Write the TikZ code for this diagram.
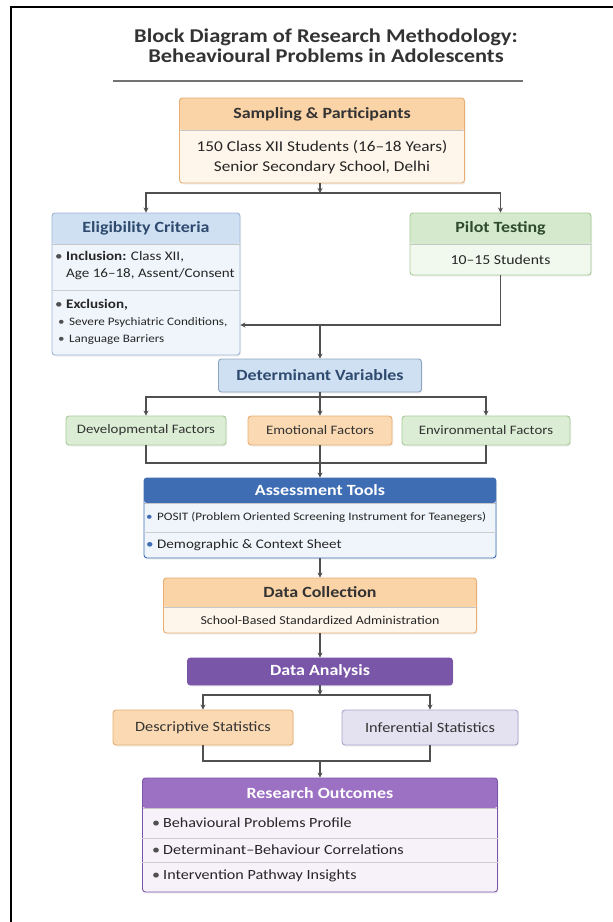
\documentclass[tikz,border=0pt]{standalone}
\usepackage{fontspec}
\setmainfont{Carlito}[FakeStretch=1.15]
\usetikzlibrary{arrows.meta,shadows}

\definecolor{orgline}{HTML}{E6AE72}
\definecolor{orghead}{HTML}{FAD3A6}
\definecolor{orgbody}{HTML}{FEF5EB}
\definecolor{bluline}{HTML}{9DB5D5}
\definecolor{bluhead}{HTML}{CFE0F2}
\definecolor{blubody}{HTML}{F0F5FB}
\definecolor{bluDark}{HTML}{3E6DB4}
\definecolor{bluText}{HTML}{2E4A6E}
\definecolor{grnline}{HTML}{A6CB98}
\definecolor{grnhead}{HTML}{D5EACD}
\definecolor{grnbody}{HTML}{F1F8ED}
\definecolor{grnText}{HTML}{2F4A2C}
\definecolor{purDark}{HTML}{7A56A8}
\definecolor{purHead}{HTML}{9C70C2}
\definecolor{purbody}{HTML}{F7F1FA}
\definecolor{lavfill}{HTML}{E4E2F1}
\definecolor{lavline}{HTML}{A6A3C8}
\definecolor{inkgray}{HTML}{505050}

\newcommand{\bul}[1][inkgray]{\makebox[11pt][l]{\textcolor{#1}{•}}}

\begin{document}
\begin{tikzpicture}[
  x=1pt, y=-1pt,
  >={Stealth[length=5pt,width=5pt]},
  box/.style={draw, rounded corners=3pt, line width=0.9pt, inner sep=0pt,
    drop shadow={opacity=0.12, shadow xshift=1pt, shadow yshift=-1.5pt}},
  hdr/.style 2 args={path picture={
    \fill[#1] (path picture bounding box.north west) rectangle ([yshift=-#2pt]path picture bounding box.north east);
    \draw[black!22, line width=0.6pt] ([yshift=-#2pt]path picture bounding box.north west) -- ([yshift=-#2pt]path picture bounding box.north east);}},
  orgbox/.style={box, draw=orgline, fill=orgbody},
  blubox/.style={box, draw=bluline, fill=blubody},
  grnbox/.style={box, draw=grnline, fill=grnbody},
  purbox/.style={box, draw=purDark, fill=purbody},
  title/.style={font=\fontsize{15.6}{18}\selectfont\bfseries, inner sep=0pt},
  body/.style={font=\fontsize{15}{20}\selectfont, inner sep=0pt, align=center, text=black!85},
  item/.style={font=\fontsize{13.1}{17}\selectfont, inner sep=0pt, align=left, anchor=west, text=black!85},
  small/.style={font=\fontsize{11.4}{16.5}\selectfont, inner sep=0pt, align=left, anchor=west, text=black!85},
  fac/.style={font=\fontsize{12.9}{16}\selectfont, inner sep=0pt, text=black!80},
  div/.style={black!20, line width=0.6pt},
  line/.style={inkgray, line width=1.1pt},
  flow/.style={line, ->},
]
  \useasboundingbox (0,0) rectangle (613,922);
  \draw[line width=2.8pt] (11,922) -- (11,7) -- (613,7);

  % heading
  \node[font=\fontsize{19.5}{19.5}\selectfont\bfseries, text=black!80, align=center] (head) at (326,45.5)
    {Block Diagram of Research Methodology:\\Beheavioural Problems in Adolescents};
  \draw[black!55, line width=1.6pt] (113,81) -- (523,81);

  % boxes
  \node[orgbox, hdr={orghead}{32}, minimum width=285, minimum height=85] (samp) at (322,140.5) {};
  \node[blubox, hdr={bluhead}{31}, minimum width=188, minimum height=142] (elig) at (146,284) {};
  \node[grnbox, hdr={grnhead}{31}, minimum width=181, minimum height=62] (pilot) at (500.5,244) {};
  \node[box, draw=bluline!90!black, fill=bluhead, minimum width=203, minimum height=33] (detv) at (320,375.5) {};
  \node[box, draw=grnline, fill=grnhead!85!white, minimum width=160, minimum height=29] (dev) at (146,430.5) {};
  \node[box, draw=orgline, fill=orghead!85!white, minimum width=144, minimum height=29] (emo) at (320,430.5) {};
  \node[box, draw=grnline, fill=grnhead!85!white, minimum width=168, minimum height=29] (env) at (486,430.5) {};
  \node[box, draw=bluDark, fill=blubody, hdr={bluDark}{25}, minimum width=352, minimum height=80] (tools) at (320,518) {};
  \node[orgbox, hdr={orghead}{29}, minimum width=313, minimum height=55] (dcoll) at (320,605.5) {};
  \node[box, draw=purDark, fill=purDark, minimum width=265, minimum height=27] (danal) at (320,671.5) {};
  \node[box, draw=orgline, fill=orghead!85!white, minimum width=180, minimum height=35] (desc) at (203,727.5) {};
  \node[box, draw=lavline, fill=lavfill, minimum width=176, minimum height=35] (infer) at (430,727.5) {};
  \node[purbox, hdr={purHead}{30}, minimum width=355, minimum height=114] (outc) at (320,835) {};

  % texts
  \node[title, text=black!80] (sampT) at (322,114) {Sampling \& Participants};
  \node[body] (sampB) at (322,157) {150 Class XII Students (16–18 Years)\\Senior Secondary School, Delhi};

  \node[title, text=bluText] (eligT) at (146,228.5) {Eligibility Criteria};
  \node[item] (incl) at (55,266) {\bul\textbf{Inclusion:} Class XII,\\\hspace*{11pt}Age 16–18, Assent/Consent};
  \draw[div] (elig.west |- 0,290) -- (elig.east |- 0,290);
  \node[item] (excl) at (55,305) {\bul\textbf{Exclusion,}};
  \node[small] (exclS) at (58,331) {\bul Severe Psychiatric Conditions,\\\bul Language Barriers};

  \node[title, text=grnText] (pilotT) at (500.5,228.5) {Pilot Testing};
  \node[body, font=\fontsize{13.7}{16}\selectfont] (pilotB) at (500.5,260) {10–15 Students};

  \node[title, text=bluText] (detvT) at (320,375.5) {Determinant Variables};
  \node[fac] (devT) at (146,430.5) {Developmental Factors};
  \node[fac] (emoT) at (320,430.5) {Emotional Factors};
  \node[fac] (envT) at (486,430.5) {Environmental Factors};

  \node[title, text=white] (toolsT) at (320,490.5) {Assessment Tools};
  \node[item, font=\fontsize{11.4}{15}\selectfont] (posit) at (146,517.5) {\bul[bluDark]POSIT (Problem Oriented Screening Instrument for Teanegers)};
  \draw[div] (tools.west |- 0,532) -- (tools.east |- 0,532);
  \node[item] (demo) at (146,545.5) {\bul[bluDark]Demographic \& Context Sheet};

  \node[title, text=black!80] (dcollT) at (320,592.5) {Data Collection};
  \node[body, font=\fontsize{12.1}{15}\selectfont] (dcollB) at (320,620) {School-Based Standardized Administration};

  \node[title, text=white] (danalT) at (320,671.5) {Data Analysis};
  \node[fac, font=\fontsize{14.2}{17}\selectfont] (descT) at (203,727.5) {Descriptive Statistics};
  \node[fac, font=\fontsize{14.2}{17}\selectfont] (inferT) at (430,727.5) {Inferential Statistics};

  \node[title, text=white] (outcT) at (320,793) {Research Outcomes};
  \node[item, font=\fontsize{14}{17}\selectfont] (out1) at (152,823) {\bul Behavioural Problems Profile};
  \draw[div] (outc.west |- 0,838) -- (outc.east |- 0,838);
  \node[item, font=\fontsize{14}{17}\selectfont] (out2) at (152,850) {\bul Determinant–Behaviour Correlations};
  \draw[div] (outc.west |- 0,862) -- (outc.east |- 0,862);
  \node[item, font=\fontsize{14}{17}\selectfont] (out3) at (152,876) {\bul Intervention Pathway Insights};

  % connectors
  \coordinate (s1) at (320,193);
  \draw[flow] (samp.south -| s1) -- (s1);
  \draw[flow] (s1) -| (elig.north);
  \draw[flow] (s1) -| (pilot.north);

  \coordinate (s2) at (320,325);
  \draw[flow] (pilot.south) |- (elig.east |- s2);
  \draw[flow] (s2) -- (detv.north);

  \coordinate (s3) at (320,397);
  \draw[line] (detv.south) -- (s3);
  \foreach \f in {dev, emo, env} \draw[flow] (s3) -| (\f.north);

  \coordinate (s4) at (320,463);
  \draw[line] (dev.south) |- (s4);
  \draw[line] (env.south) |- (s4);
  \draw[line] (emo.south) -- (s4);
  \draw[flow] (s4) -- (tools.north);

  \draw[flow] (tools.south) -- (dcoll.north);
  \draw[flow] (dcoll.south) -- (danal.north);

  \coordinate (s5) at (320,695);
  \draw[flow] (danal.south) -- (s5);
  \foreach \f in {desc, infer} \draw[flow] (s5) -| (\f.north);

  \coordinate (s6) at (320,761);
  \draw[line] (desc.south) |- (s6);
  \draw[line] (infer.south) |- (s6);
  \draw[flow] (s6) -- (outc.north);
\end{tikzpicture}
\end{document}
